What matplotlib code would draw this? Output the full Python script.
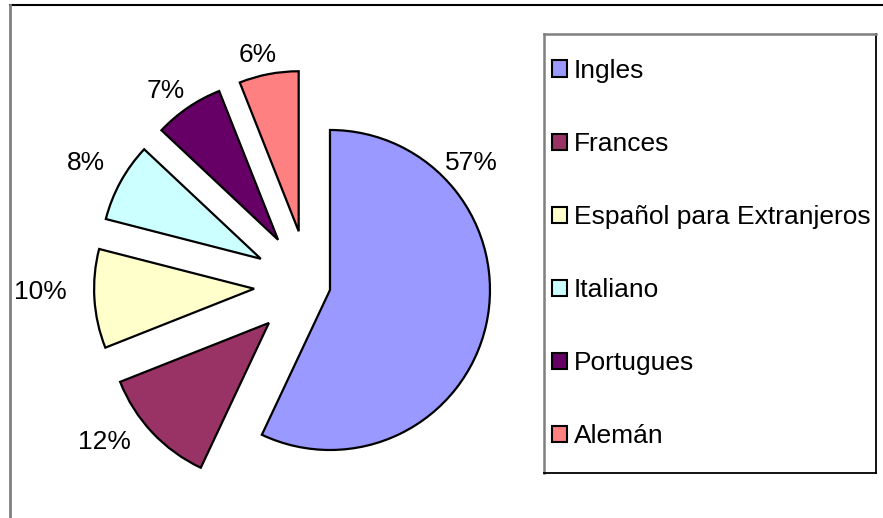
import matplotlib
matplotlib.use("Agg")
import matplotlib.pyplot as plt
import numpy as np
from matplotlib.patches import Patch
from matplotlib.lines import Line2D

categories = ["Ingles", "Frances", "Español para Extranjeros", "Italiano", "Portugues", "Alemán"]
values = [57, 12, 10, 8, 7, 6]
pct_labels = ["57%", "12%", "10%", "8%", "7%", "6%"]

colors = ["#9999FF", "#993366", "#FFFFCC", "#CCFFFF", "#660066", "#FF8080"]
explode = [21.5, 55, 55, 55, 55, 55]
label_dist = [190, 203, 214, 199, 186, 181]
label_angle_override = {0: 42.0, 1: 216.0, 2: 180.8, 4: 127.0, 5: 103.0}

plt.rcParams['font.family'] = ['Liberation Sans', 'DejaVu Sans']
FS = 19

W, H = 883, 518
fig = plt.figure(figsize=(W / 100, H / 100), dpi=100)
fig.patch.set_facecolor("white")

ax = fig.add_axes([0, 0, 1, 1])
cx, cy = 309, H - 285.3
R = 160
wedges, _ = ax.pie(values, colors=colors, explode=explode, startangle=90,
                   counterclock=False, center=(cx, cy), radius=R,
                   wedgeprops=dict(edgecolor="black", linewidth=1.6))
ax.set_xlim(0, W)
ax.set_ylim(0, H)
ax.set_aspect("equal")
ax.axis("off")

for i, w in enumerate(wedges):
    mid = 0.5 * (w.theta1 + w.theta2)
    ang = label_angle_override.get(i, mid)
    x0, y0 = w.center
    lx = x0 + label_dist[i] * np.cos(np.radians(ang))
    ly = y0 + label_dist[i] * np.sin(np.radians(ang))
    ax.text(lx, ly, pct_labels[i], ha="center", va="center", fontsize=FS)

# outer chart border (top black, left gray)
fig.add_artist(Line2D([9.5 / W, 1.0], [1 - 5 / H, 1 - 5 / H], transform=fig.transFigure,
                      color="black", lw=1.5))
fig.add_artist(Line2D([9.5 / W, 9.5 / W], [0, 1 - 5 / H], transform=fig.transFigure,
                      color="#808080", lw=2))

# legend box
lx0, lx1, ly0, ly1 = 544, 876, 34.3, 473
lax = fig.add_axes([lx0 / W, 1 - ly1 / H, (lx1 - lx0) / W, (ly1 - ly0) / H])
lax.set_xticks([])
lax.set_yticks([])
for s in ["top", "left"]:
    lax.spines[s].set_color("#808080")
    lax.spines[s].set_linewidth(1.8)
for s in ["bottom", "right"]:
    lax.spines[s].set_color("black")
    lax.spines[s].set_linewidth(1.3)
handles = [Patch(facecolor=c, edgecolor="black", linewidth=1.5) for c in colors]
lax.legend(handles, categories, loc="center left", frameon=False, fontsize=FS,
           handlelength=0.57, handleheight=0.57, handletextpad=0.25,
           labelspacing=1.86, borderaxespad=0, borderpad=0.3)

fig.savefig("out.png", dpi=100, facecolor="white")
